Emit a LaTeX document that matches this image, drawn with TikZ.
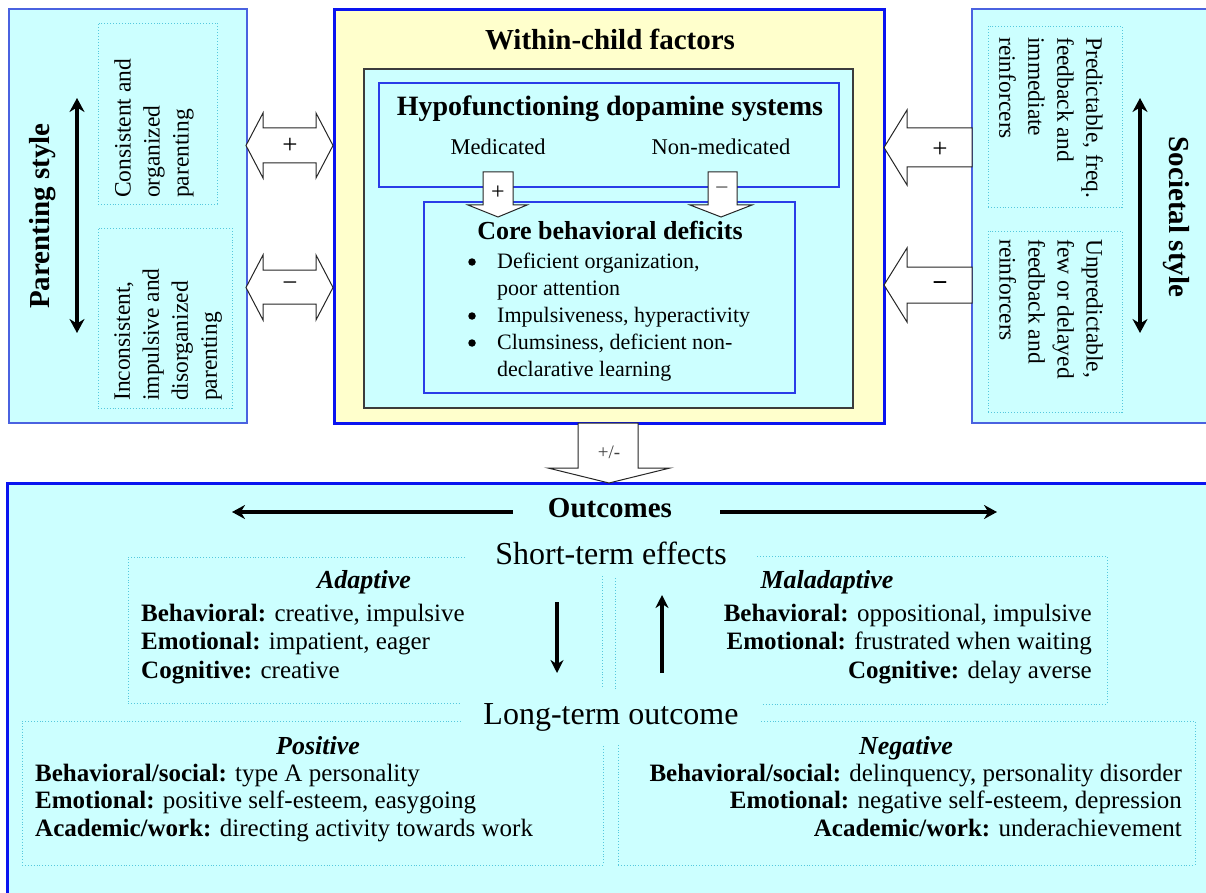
\documentclass[tikz,border=0pt]{standalone}
\usepackage{fontspec}
\setmainfont{Liberation Serif}
\usetikzlibrary{arrows.meta}
\newcommand{\myfs}[2]{\fontsize{#1pt}{#2pt}\selectfont}
\definecolor{cyanbg}{HTML}{CCFFFF}
\definecolor{yellowbg}{HTML}{FFFFCC}
\definecolor{sideblue}{HTML}{4A62E0}
\definecolor{mainblue}{HTML}{0A14F0}
\definecolor{innerblue}{HTML}{2A3CE8}
\definecolor{dotcyan}{HTML}{55C8DD}
\definecolor{darkframe}{HTML}{3C3C3C}
\tikzset{
  plainbox/.style={rectangle, inner sep=0pt, outer sep=0pt, anchor=north west},
  sidebox/.style={plainbox, draw=sideblue, line width=1.3pt, fill=cyanbg},
  mainbox/.style={plainbox, draw=mainblue, line width=3pt},
  innerbox/.style={plainbox, draw=innerblue, line width=1.3pt, fill=cyanbg},
  darkbox/.style={plainbox, draw=darkframe, line width=1.5pt, fill=cyanbg},
  dotbox/.style={plainbox, draw=dotcyan, dotted, line width=0.9pt},
  blockarrow/.style={draw=black!85, fill=white, line width=1pt, line join=miter},
  dblarrow/.style={line width=4pt, {Stealth[length=14pt,width=15pt]}-{Stealth[length=14pt,width=15pt]}},
  thickarrow/.style={line width=4pt, -{Stealth[length=13pt,width=14pt]}},
  medarrow/.style={line width=3.5pt, -{Stealth[length=13pt,width=13pt]}},
  sidetext/.style={align=left, inner sep=0pt, anchor=north west, font=\myfs{23.5}{29}},
  titletext/.style={font=\bfseries\myfs{29}{35}},
  bodytext/.style={inner sep=0pt, font=\myfs{25}{28.5}},
  signtext/.style={font=\myfs{27}{30}},
  bulletdot/.style={circle, fill=black, inner sep=0pt, minimum size=7.5pt},
}
\begin{document}
\begin{tikzpicture}[x=1pt, y=-1pt]
\clip (0,0) rectangle (1206,893);
\fill[white] (0,0) rectangle (1206,893);

% ---------- main boxes ----------
\node[sidebox, minimum width=238pt, minimum height=414pt] (parent) at (9,9) {};
\node[sidebox, minimum width=260pt, minimum height=414pt] (society) at (972,9) {};
\node[mainbox, fill=yellowbg, minimum width=550pt, minimum height=413pt] (within) at (334,10) {};
\node[darkbox, minimum width=489pt, minimum height=339pt] (inner) at (364,69) {};
\node[innerbox, minimum width=460pt, minimum height=104pt] (hypo) at (379,83) {};
\node[innerbox, minimum width=371pt, minimum height=191pt] (core) at (424,202) {};
\node[mainbox, fill=cyanbg, minimum width=1230pt, minimum height=430pt] (outbox) at (7,483) {};

% ---------- dotted boxes ----------
\node[dotbox, minimum width=119pt, minimum height=181pt] (pd1) at (98,23) {};
\node[dotbox, minimum width=134pt, minimum height=180pt] (pd2) at (98,228) {};
\node[dotbox, minimum width=134pt, minimum height=181pt] (sd1) at (988,26) {};
\node[dotbox, minimum width=134pt, minimum height=181pt] (sd2) at (988,231) {};
\node[dotbox, minimum width=474pt, minimum height=146pt] (adapt) at (128,557) {};
\node[dotbox, minimum width=492pt, minimum height=148pt] (malad) at (615,556) {};
\node[dotbox, minimum width=581pt, minimum height=144pt] (posi) at (22,721) {};
\node[dotbox, minimum width=577pt, minimum height=144pt] (nega) at (618,721) {};

% ---------- block arrows ----------
\draw[blockarrow] (246,145.5) -- (263,113) -- (263,128) -- (316,128) -- (316,113) -- (333,145.5)
  -- (316,178) -- (316,163) -- (263,163) -- (263,178) -- cycle;
\draw[blockarrow] (246,287.5) -- (263,255) -- (263,270) -- (316,270) -- (316,255) -- (333,287.5)
  -- (316,320) -- (316,304) -- (263,304) -- (263,320) -- cycle;
\draw[blockarrow] (884,147.5) -- (907,110) -- (907,128) -- (972,128) -- (972,167) -- (907,167) -- (907,185) -- cycle;
\draw[blockarrow] (884,285) -- (907,248) -- (907,267) -- (972,267) -- (972,303) -- (907,303) -- (907,322) -- cycle;
\draw[blockarrow] (483,172) -- (513,172) -- (513,205) -- (527,205) -- (498,217) -- (468,205) -- (483,205) -- cycle;
\draw[blockarrow] (708,172) -- (737,172) -- (737,205) -- (752,205) -- (721,217) -- (690,205) -- (708,205) -- cycle;
\draw[blockarrow] (578,423) -- (638,423) -- (638,468) -- (670,468) -- (609,483) -- (548,468) -- (578,468) -- cycle;

\node[signtext] (lplus) at (290,146) {+};
\node[signtext] (lminus) at (290,287) {−};
\node[signtext] (rplus) at (940,150) {+};
\node[signtext, font=\bfseries\myfs{27}{30}] (rminus) at (940,287) {−};
\node[font=\myfs{24}{26}] (mplus) at (498,193) {+};
\node[font=\myfs{24}{26}, text=black!70] (mminus) at (722,191) {−};
\node[font=\myfs{19}{22}, text=black!75] (pm) at (609,452) {+/-};

% ---------- side texts ----------
\node[rotate=90, titletext] (ptitle) at (43,216) {Parenting style};
\node[rotate=90, sidetext] (p1) at (114,198) {Consistent and\\organized\\parenting};
\node[rotate=90, sidetext] (p2) at (114,401) {Inconsistent,\\impulsive and\\disorganized\\parenting};
\coordinate (pa1) at (77,98);
\coordinate (pa2) at (77,333);
\draw[dblarrow] (pa1) -- (pa2);

\node[rotate=-90, titletext] (stitle) at (1176,217) {Societal style};
\node[rotate=-90, sidetext] (s1) at (1103,37) {Predictable, freq.\\feedback and\\immediate\\reinforcers};
\node[rotate=-90, sidetext] (s2) at (1103,239) {Unpredictable,\\few or delayed\\feedback and\\reinforcers};
\coordinate (sa1) at (1140,98);
\coordinate (sa2) at (1140,333);
\draw[dblarrow] (sa1) -- (sa2);

% ---------- within-child texts ----------
\node[anchor=base, titletext] (wct) at (610,50) {Within-child factors};
\node[anchor=base, font=\bfseries\myfs{28}{33}] (hypot) at (610,116) {Hypofunctioning dopamine systems};
\node[anchor=base, font=\myfs{22.5}{27}] (med) at (498,155) {Medicated};
\node[anchor=base, font=\myfs{22.5}{27}] (nonmed) at (721,155) {Non-medicated};
\node[anchor=base, font=\bfseries\myfs{26}{31}] (coret) at (610,240) {Core behavioral deficits};
\node[anchor=base west, inner sep=0pt, font=\myfs{22}{27}] (corel) at (497,268)
  {\begin{tabular}[t]{@{}l@{}}
   Deficient organization,\\
   poor attention\\
   Impulsiveness, hyperactivity\\
   Clumsiness, deficient non-\\
   declarative learning
   \end{tabular}};
\node[bulletdot] (b1) at (472,262) {};
\node[bulletdot] (b2) at (472,316) {};
\node[bulletdot] (b3) at (472,343) {};

% ---------- outcomes ----------
\node[anchor=base, titletext] (outt) at (610,517) {Outcomes};
\coordinate (ol1) at (513,512);
\coordinate (ol2) at (232,512);
\coordinate (or1) at (720,512);
\coordinate (or2) at (997,512);
\draw[thickarrow] (ol1) -- (ol2);
\draw[thickarrow] (or1) -- (or2);

\node[anchor=base, fill=cyanbg, inner xsep=28pt, inner ysep=12pt, font=\myfs{32}{38}] (st) at (611,564) {Short-term effects};
\node[anchor=base, fill=cyanbg, inner xsep=22pt, inner ysep=14pt, font=\myfs{32}{38}] (lt) at (611,724) {Long-term outcome};

\coordinate (da1) at (557,602);
\coordinate (da2) at (557,673);
\coordinate (ua1) at (662,673);
\coordinate (ua2) at (662,595);
\draw[medarrow] (da1) -- (da2);
\draw[medarrow] (ua1) -- (ua2);

\node[anchor=base, font=\bfseries\itshape\myfs{26}{30}] (adt) at (364,588) {Adaptive};
\node[anchor=base west, bodytext] (adl) at (141,621)
  {\begin{tabular}[t]{@{}l@{}}
   \textbf{Behavioral:} creative, impulsive\\
   \textbf{Emotional:} impatient, eager\\
   \textbf{Cognitive:} creative
   \end{tabular}};
\node[anchor=base, font=\bfseries\itshape\myfs{26}{30}] (mat) at (827,588) {Maladaptive};
\node[anchor=base east, bodytext] (mal) at (1092,621)
  {\begin{tabular}[t]{@{}r@{}}
   \textbf{Behavioral:} oppositional, impulsive\\
   \textbf{Emotional:} frustrated when waiting\\
   \textbf{Cognitive:} delay averse
   \end{tabular}};

\node[anchor=base, font=\bfseries\itshape\myfs{26}{30}] (post) at (318,754) {Positive};
\node[anchor=base west, inner sep=0pt, font=\myfs{25}{27.5}] (posl) at (35,781)
  {\begin{tabular}[t]{@{}l@{}}
   \textbf{Behavioral/social:} type A personality\\
   \textbf{Emotional:} positive self-esteem, easygoing\\
   \textbf{Academic/work:} directing activity towards work
   \end{tabular}};
\node[anchor=base, font=\bfseries\itshape\myfs{26}{30}] (negt) at (906,754) {Negative};
\node[anchor=base east, inner sep=0pt, font=\myfs{25}{27.5}] (negl) at (1182,781)
  {\begin{tabular}[t]{@{}r@{}}
   \textbf{Behavioral/social:} delinquency, personality disorder\\
   \textbf{Emotional:} negative self-esteem, depression\\
   \textbf{Academic/work:} underachievement
   \end{tabular}};
\end{tikzpicture}
\end{document}
